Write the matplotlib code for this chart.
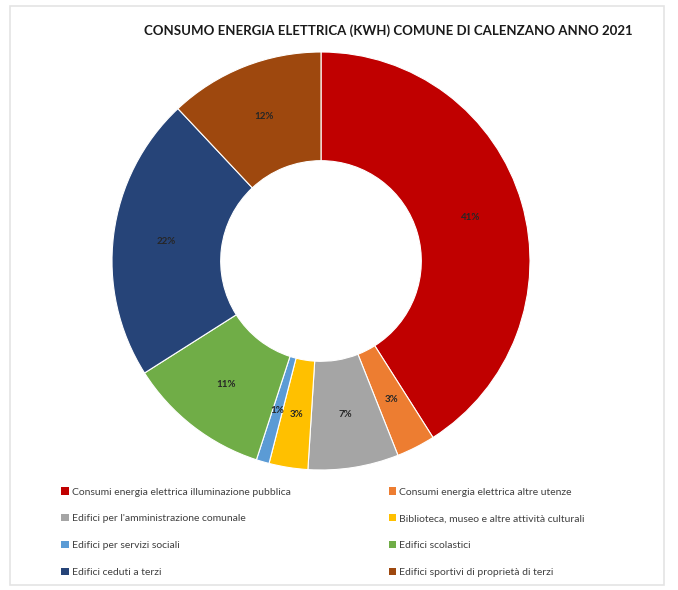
import matplotlib
matplotlib.use("Agg")
import matplotlib.pyplot as plt
from matplotlib.patches import Rectangle

plt.rcParams["font.family"] = ["Lato", "DejaVu Sans"]

categories = [
    "Consumi energia elettrica illuminazione pubblica",
    "Consumi energia elettrica altre utenze",
    "Edifici per l'amministrazione comunale",
    "Biblioteca, museo e altre attività culturali",
    "Edifici per servizi sociali",
    "Edifici scolastici",
    "Edifici ceduti a terzi",
    "Edifici sportivi di proprietà di terzi",
]
shares = [41, 3, 7, 3, 1, 11, 22, 12]
colours = ["#C00000", "#ED7D31", "#A5A5A5", "#FFC000",
           "#5B9BD5", "#70AD47", "#264478", "#9E480E"]
title = "CONSUMO ENERGIA ELETTRICA (KWH) COMUNE DI CALENZANO ANNO 2021"

fig = plt.figure(figsize=(6.78, 5.90), dpi=100)
fig.patch.set_facecolor("white")

# faint frame of the chart area
fig.add_artist(Rectangle((0.015, 0.008), 0.965, 0.982, transform=fig.transFigure,
                         fill=False, edgecolor="#e4e4e4", linewidth=1.2))

# pie centred at (321, 261) px, outer radius ~209 px
r_px = 209
cx, cy = 321, 261
ax = fig.add_axes([(cx - r_px) / 678, 1 - (cy + r_px) / 590,
                   2 * r_px / 678, 2 * r_px / 590])
wedges, _, autotexts = ax.pie(
    shares, colors=colours, startangle=90, counterclock=False, radius=1.0,
    autopct=lambda p: f"{p:.0f}%", pctdistance=0.745,
    wedgeprops=dict(width=0.52, edgecolor="white", linewidth=0.8),
    textprops=dict(fontsize=7, fontweight="bold", color="#262626"))
ax.set_aspect("equal")
ax.set_xlim(-1, 1)
ax.set_ylim(-1, 1)

fig.text(388 / 678, 1 - 31 / 590, title, ha="center", va="center",
         fontsize=9.5, fontweight="bold", color="#1a1a1a")

# legend: row-major order in two columns
order = [0, 2, 4, 6, 1, 3, 5, 7]
leg = fig.legend([wedges[i] for i in order], [categories[i] for i in order],
                 ncol=2, loc="upper left", bbox_to_anchor=(52 / 678, 1 - 478 / 590),
                 frameon=False, fontsize=7.5, handlelength=0.7, handleheight=0.7,
                 handletextpad=0.3, columnspacing=9.4, labelspacing=1.68,
                 labelcolor="#404040")
for h in leg.legend_handles:
    h.set_edgecolor("none")

fig.savefig("out.png", dpi=100)
